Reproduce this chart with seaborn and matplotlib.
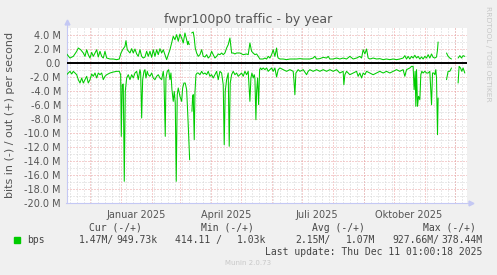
import numpy as np
import pandas as pd
import seaborn as sns
import matplotlib.pyplot as plt
from matplotlib.patches import Rectangle

nan = np.nan

# days relative to 1 Jan 2025, values in Mbit/s, nan marks a gap in the data
out_day = [-54.3, -51.0, -47.7, -44.3, -42.7, -40.3, -37.7, -36.0, -34.3, -32.7,
           -31.0, -29.3, -27.7, -24.3, -22.7, -21.0, -19.3, -17.7, -16.0, -14.3,
           -11.0, -7.7, -4.3, -1.7, 0.0, 1.7, 4.0, 5.0, 6.3, 9.0,
           10.7, 12.3, 14.0, 15.7, 17.3, 19.0, 20.7, 22.3, 24.0, 25.7,
           27.3, 29.0, 30.7, 32.3, 34.0, 35.7, 37.3, 39.0, 40.7, 42.3,
           44.0, 45.7, 47.3, 49.0, 50.7, 52.3, 54.0, 55.7, 57.3, 59.0,
           60.7, 62.3, 64.0, 65.7, 66.7, 67.3, 68.3, nan,
           70.7, 72.3, 73.3, 74.3, 75.7, 77.3, 79.0, 80.7, 82.3, 84.0,
           85.7, 87.3, 89.0, 90.7, 92.3, 94.0, 95.7, 97.3, 99.0, 100.7,
           102.3, 104.0, 105.7, 107.3, 109.0, 110.7, 112.3, 114.0, 115.7, 119.0,
           122.3, 125.7, 127.3, 129.0, 130.7, 132.3, 134.0, 135.7, 137.3, 139.0,
           142.3, 144.0, 145.7, 147.3, 149.0, 150.7, 152.3, 154.0, 155.7, 156.7,
           157.3, 159.0, 162.3, 165.7, 169.0, 172.3, 175.7, 179.0, 182.3, 185.7,
           189.0, 192.3, 194.0, 195.7, 199.0, 202.3, 205.7, 207.3, 209.0, 212.3,
           215.7, 219.0, 222.3, 225.7, 229.0, 232.3, 235.7, 239.0, 240.7, 242.3,
           244.0, 245.7, 247.3, 249.0, 252.3, 255.7, 259.0, 262.3, 265.7, 269.0,
           272.3, 275.7, 279.0, 282.3, 284.0, 285.7, 287.3, 289.0, 290.7, 292.3,
           294.0, 295.7, 297.3, 299.0, 300.7, 302.3, 304.0, 305.7, 307.3, 309.0,
           310.7, 312.3, 314.0, 315.7, 316.7, 317.3, nan,
           325.7, 327.3, 329.0, 330.7, nan,
           337.3, 339.0, 340.7, 342.3, 344.0]
out_val = [1.29, 0.71, 0.95, 1.67, 2.14, 1.90, 1.43, 0.95, 1.90, 1.19,
           0.71, 1.52, 0.95, 1.90, 0.86, 1.67, 0.95, 0.71, 1.67, 0.71,
           0.57, 0.57, 0.48, 0.57, 1.43, 1.90, 2.38, 3.19, 1.90, 1.43,
           2.05, 1.43, 2.00, 1.29, 0.95, 1.90, 0.95, 0.71, 0.86, 1.67,
           0.95, 1.67, 0.81, 1.90, 0.95, 1.90, 1.19, 2.05, 1.43, 1.90,
           1.19, 0.48, 1.19, 1.90, 2.86, 3.81, 3.33, 4.05, 3.10, 4.14,
           3.57, 2.86, 4.29, 3.33, 2.62, 3.10, 2.62, nan,
           4.29, 4.43, 3.57, 2.14, 1.43, 0.95, 1.19, 1.90, 0.95, 0.86,
           1.19, 0.71, 0.95, 1.67, 1.19, 0.71, 0.95, 1.29, 1.19, 1.43,
           1.19, 1.43, 2.14, 2.62, 3.57, 1.43, 1.43, 1.29, 1.43, 1.43,
           1.19, 1.29, 1.19, 2.86, 1.67, 1.43, 1.19, 1.29, 0.95, 0.57,
           0.57, 0.71, 0.57, 0.95, 0.71, 1.19, 1.90, 0.95, 2.14, 0.95,
           0.71, 0.57, 0.57, 0.48, 0.57, 0.57, 0.57, 0.62, 0.57, 0.57,
           0.57, 0.71, 0.95, 0.57, 0.62, 0.81, 0.71, 0.95, 0.57, 0.57,
           0.71, 0.57, 0.71, 0.57, 0.95, 0.57, 0.71, 0.95, 0.71, 1.90,
           1.29, 2.00, 0.71, 0.57, 0.71, 0.57, 0.62, 0.48, 0.57, 0.48,
           0.57, 0.48, 0.57, 0.71, 1.05, 0.57, 0.95, 0.57, 0.95, 0.71,
           1.10, 0.71, 0.95, 0.57, 0.86, 0.57, 0.95, 0.71, 1.19, 0.71,
           1.29, 0.81, 0.71, 0.86, 1.90, 3.00, nan,
           1.43, 0.95, 0.71, 0.57, nan,
           0.71, 1.05, 0.71, 1.05, 0.95]

in_day = [-54.3, -52.7, -51.0, -49.3, -47.7, -46.0, -44.3, -42.7, -41.0, -39.3,
          -37.7, -36.0, -34.3, -32.7, -31.0, -29.3, -27.7, -26.0, -24.3, -22.7,
          -21.0, -19.3, -17.7, -16.0, -14.3, -11.0, -7.7, -4.3, -1.7, -0.3,
          0.3, 1.3, 2.3, 3.3, 4.3, 5.7, 7.3, 9.0, 10.7, 12.3,
          14.0, 15.7, 17.3, 19.0, 19.7, 20.7, 21.7, 23.0, 24.0, 25.0,
          26.3, 27.3, 29.0, 30.7, 32.3, 34.0, 35.7, 37.3, 39.0, 40.7,
          42.3, 43.0, 44.3, 45.0, 46.3, 47.7, 49.0, 50.0, 51.0, 52.3,
          53.3, 54.3, 55.3, 56.3, 57.3, 59.0, 60.7, 61.7, 63.0, 64.3,
          65.7, 66.7, 67.7, 68.7, nan,
          71.0, 71.7, 72.3, 73.3, 74.0, 75.0, 76.3, 77.3, 79.0, 80.7,
          82.3, 84.0, 85.7, 87.3, 89.0, 90.7, 92.3, 94.0, 95.7, 97.3,
          99.0, 100.7, 102.3, 103.3, 104.3, 105.7, 107.3, 108.3, 109.3, 110.7,
          112.3, 114.0, 115.7, 117.3, 119.0, 120.7, 122.3, 124.0, 125.7, 127.3,
          129.0, 130.0, 131.0, 132.3, 133.3, 134.0, 135.0, 135.7, 136.7, 137.7,
          138.7, 139.7, 140.7, 142.3, 144.0, 145.7, 147.3, 149.0, 150.7, 152.3,
          154.0, 155.7, 157.3, 159.0, 162.3, 165.7, 169.0, 172.3, 173.0, 174.0,
          175.0, 177.3, 179.0, 182.3, 185.7, 187.3, 189.0, 192.3, 195.7, 199.0,
          202.3, 205.7, 209.0, 212.3, 215.7, 219.0, 222.3, 223.0, 224.0, 225.7,
          229.0, 232.3, 235.7, 237.3, 239.0, 240.7, 242.3, 244.0, 245.7, 249.0,
          252.3, 255.7, 259.0, 262.3, 265.7, 269.0, 272.3, 275.7, 279.0, 282.3,
          284.0, 285.7, 289.0, 290.7, 292.3, 293.3, 294.3, 295.0, 295.7, 296.7,
          297.7, 299.0, 300.0, 301.0, 302.3, 304.0, 305.7, 307.3, 309.0, 310.7,
          311.7, 313.0, 314.0, 315.0, 315.7, 316.7, 317.3, nan,
          325.7, 327.3, 329.0, 330.7, nan,
          337.3, 338.3, 339.7, 341.0, 342.3, 344.0]
in_val = [-1.67, -1.43, -1.19, -1.57, -1.19, -1.43, -1.67, -2.38, -2.86, -2.14,
          -2.86, -2.38, -1.90, -2.86, -2.38, -1.57, -1.90, -1.43, -2.14, -1.43,
          -1.67, -1.43, -2.38, -1.90, -1.67, -1.43, -1.29, -1.19, -1.19, -1.67,
          -10.48, -3.10, -3.00, -16.90, -4.05, -2.14, -1.67, -2.38, -1.67, -2.14,
          -1.43, -1.19, -2.38, -0.95, -1.43, -7.86, -2.38, -1.19, -0.95, -2.14,
          -1.19, -1.67, -1.90, -1.43, -2.14, -2.38, -1.90, -1.67, -2.14, -2.38,
          -1.19, -2.14, -10.48, -2.14, -1.19, -0.95, -2.38, -1.43, -3.81, -5.48,
          -4.05, -5.71, -16.90, -4.52, -3.57, -4.76, -5.48, -3.57, -2.86, -2.86,
          -3.81, -6.90, -10.24, -13.81, nan,
          -6.90, -4.76, -4.52, -10.95, -4.29, -1.67, -1.43, -1.43, -1.67, -1.19,
          -1.57, -1.43, -1.67, -1.19, -1.90, -1.67, -2.14, -1.67, -1.19, -2.38,
          -1.19, -1.43, -3.10, -11.67, -4.05, -2.38, -1.43, -11.90, -2.86, -1.67,
          -1.19, -1.67, -1.43, -1.90, -1.67, -1.43, -1.90, -1.19, -1.67, -1.19,
          -5.48, -2.14, -1.43, -2.14, -1.67, -2.14, -8.10, -4.05, -2.14, -5.95,
          -0.95, -0.71, -0.95, -0.71, -0.95, -0.71, -1.19, -0.95, -0.71, -1.19,
          -0.71, -2.00, -0.95, -0.71, -0.95, -1.19, -0.95, -1.19, -2.38, -4.52,
          -1.43, -0.95, -1.19, -0.95, -1.67, -1.19, -0.95, -1.19, -0.95, -1.19,
          -0.95, -1.19, -0.95, -1.19, -0.95, -1.43, -1.19, -3.10, -1.67, -1.19,
          -1.67, -1.43, -1.19, -1.90, -1.43, -2.14, -1.43, -1.67, -1.19, -1.43,
          -1.67, -1.43, -1.19, -1.43, -1.19, -1.43, -1.19, -0.95, -1.19, -0.95,
          -1.90, -0.95, -0.71, -0.48, -0.48, -3.81, -1.19, -6.19, -0.95, -6.19,
          -4.76, -5.24, -1.67, -1.19, -1.43, -1.19, -1.43, -1.43, -1.19, -5.95,
          -1.43, -1.43, -1.67, -0.95, -2.14, -10.24, -5.00, nan,
          -2.38, -1.19, -1.19, -0.71, nan,
          -2.86, -0.48, -0.71, -1.19, -0.71, -1.43]

ytick_vals = list(range(-20, 5, 2))
ytick_labels = ["-20.0 M", "-18.0 M", "-16.0 M", "-14.0 M", "-12.0 M", "-10.0 M",
                "-8.0 M", "-6.0 M", "-4.0 M", "-2.0 M", "0.0", "2.0 M", "4.0 M"]
quarter_labels = ["Januar 2025", "April 2025", "Juli 2025", "Oktober 2025"]
quarter_label_dates = ["2025-01-16", "2025-04-16", "2025-07-16", "2025-10-16"]

legend_head = ["Cur (-/+)", "Min (-/+)", "Avg (-/+)", "Max (-/+)"]
legend_vals = ["1.47M/", "949.73k", "414.11 /", "1.03k", "2.15M/", "1.07M", "927.66M/", "378.44M"]

start = pd.Timestamp("2025-01-01")
W, H = 497, 275
GREEN = "#00cc00"
MGRID = "#eda0a0"
GRID = "#d4d4d4"
AXIS = "#c4c8f4"
TXT = "#555555"


def series(days, vals):
    df = pd.DataFrame({"day": days, "val": vals})
    df["seg"] = df["val"].isna().cumsum()
    df = df.dropna()
    df["date"] = start + pd.to_timedelta(df["day"], unit="D")
    return df


sns.set_style("white")
plt.rcParams["font.family"] = ["DejaVu Sans"]

fig = plt.figure(figsize=(W / 100, H / 100), dpi=100, facecolor="#f0f0f0")
ax = fig.add_axes([66.5 / W, 72 / H, 400 / W, 175 / H])
ax.set_facecolor("white")

x0 = start + pd.Timedelta(days=-54.5)
x1 = start + pd.Timedelta(days=345.7)

# grid: weeks / months vertical, 1M / 2M horizontal
for d in pd.date_range(x0, x1, freq="W-MON"):
    ax.axvline(d, color=GRID, lw=0.72, ls=(0, (1, 2)), zorder=0)
for v in range(-19, 5, 2):
    ax.axhline(v, color=GRID, lw=0.72, ls=(0, (1, 2)), zorder=0)
for d in pd.date_range(x0, x1, freq="MS"):
    ax.axvline(d, color=MGRID, lw=0.72, ls=(0, (1, 2)), zorder=1)
for v in ytick_vals:
    ax.axhline(v, color=MGRID, lw=0.72, ls=(0, (1, 2)), zorder=1)

ax.axhline(0, color="black", lw=1.4, zorder=3)

out_df = series(out_day, out_val)
in_df = series(in_day, in_val)
sns.lineplot(data=out_df, x="date", y="val", units="seg", estimator=None,
             color=GREEN, lw=0.75, ax=ax, zorder=4)
sns.lineplot(data=in_df, x="date", y="val", units="seg", estimator=None,
             color=GREEN, lw=0.75, ax=ax, zorder=4)

ax.set_xlim(x0, x1)
ax.set_ylim(-20, 5)
ax.set_xlabel("")
ax.set_ylabel("")

ax.set_yticks(ytick_vals)
ax.set_yticklabels(ytick_labels)
ax.set_yticks(range(-19, 5, 2), minor=True)
ax.tick_params(axis="y", which="major", length=2, color=MGRID, labelsize=7,
               labelcolor=TXT, pad=3, direction="inout")
ax.tick_params(axis="y", which="minor", length=2, color=GRID, direction="inout")

ax.set_xticks(pd.to_datetime(quarter_label_dates))
ax.set_xticklabels(quarter_labels)
ax.set_xticks(pd.date_range(x0, x1, freq="MS"), minor=True)
ax.tick_params(axis="x", which="major", length=0, labelsize=7, labelcolor=TXT, pad=5)
ax.tick_params(axis="x", which="minor", length=3, color=MGRID, direction="inout")

for side in ["top", "right"]:
    ax.spines[side].set_visible(False)
for side in ["left", "bottom"]:
    ax.spines[side].set_color(AXIS)
    ax.spines[side].set_linewidth(0.8)

# axis arrows
ax.plot([0, 0], [1, 1.03], color=AXIS, lw=0.8, transform=ax.transAxes, clip_on=False)
ax.plot([0], [1.035], marker="^", ms=3.5, color=AXIS, transform=ax.transAxes, clip_on=False)
ax.plot([1, 1.008], [0, 0], color=AXIS, lw=0.8, transform=ax.transAxes, clip_on=False)
ax.plot([1.01], [0], marker=">", ms=3.5, color=AXIS, transform=ax.transAxes, clip_on=False)

fig.text(0.5, 1 - 19 / H, "fwpr100p0 traffic - by year", ha="center", va="center",
         size=9, color=TXT)
fig.text(10 / W, 1 - 115 / H, "bits in (-) / out (+) per second", rotation=90,
         ha="center", va="center", size=8, color=TXT)
fig.text(488 / W, 1 - 53.5 / H, "RRDTOOL / TOBI OETIKER", rotation=270,
         ha="center", va="center", size=5.4, color="#c8c8c8")

# legend block
mono = dict(family="DejaVu Sans Mono", size=7, color="#444444", va="center")
head_x = [89.3, 201, 311.7, 422.7]
for x, s in zip(head_x, legend_head):
    fig.text(x / W, 1 - 227.7 / H, s, ha="left", **mono)
fig.add_artist(Rectangle((14 / W, 1 - 242.5 / H), 5.5 / W, 5.5 / H,
                         transform=fig.transFigure, color=GREEN))
fig.text(26.7 / W, 1 - 240 / H, "bps", ha="left", **mono)
val_end = [114, 157.7, 222, 266.7, 331, 375, 439, 482.7]
for x, s in zip(val_end, legend_vals):
    fig.text(x / W, 1 - 240 / H, s, ha="right", **mono)
fig.text(482.7 / W, 1 - 251.7 / H, "Last update: Thu Dec 11 01:00:18 2025",
         ha="right", **mono)
fig.text(0.5, 1 - 263.3 / H, "Munin 2.0.73", ha="center", va="center",
         size=5, color="#c8c8c8")

fig.savefig("out.png", dpi=100, facecolor=fig.get_facecolor())
